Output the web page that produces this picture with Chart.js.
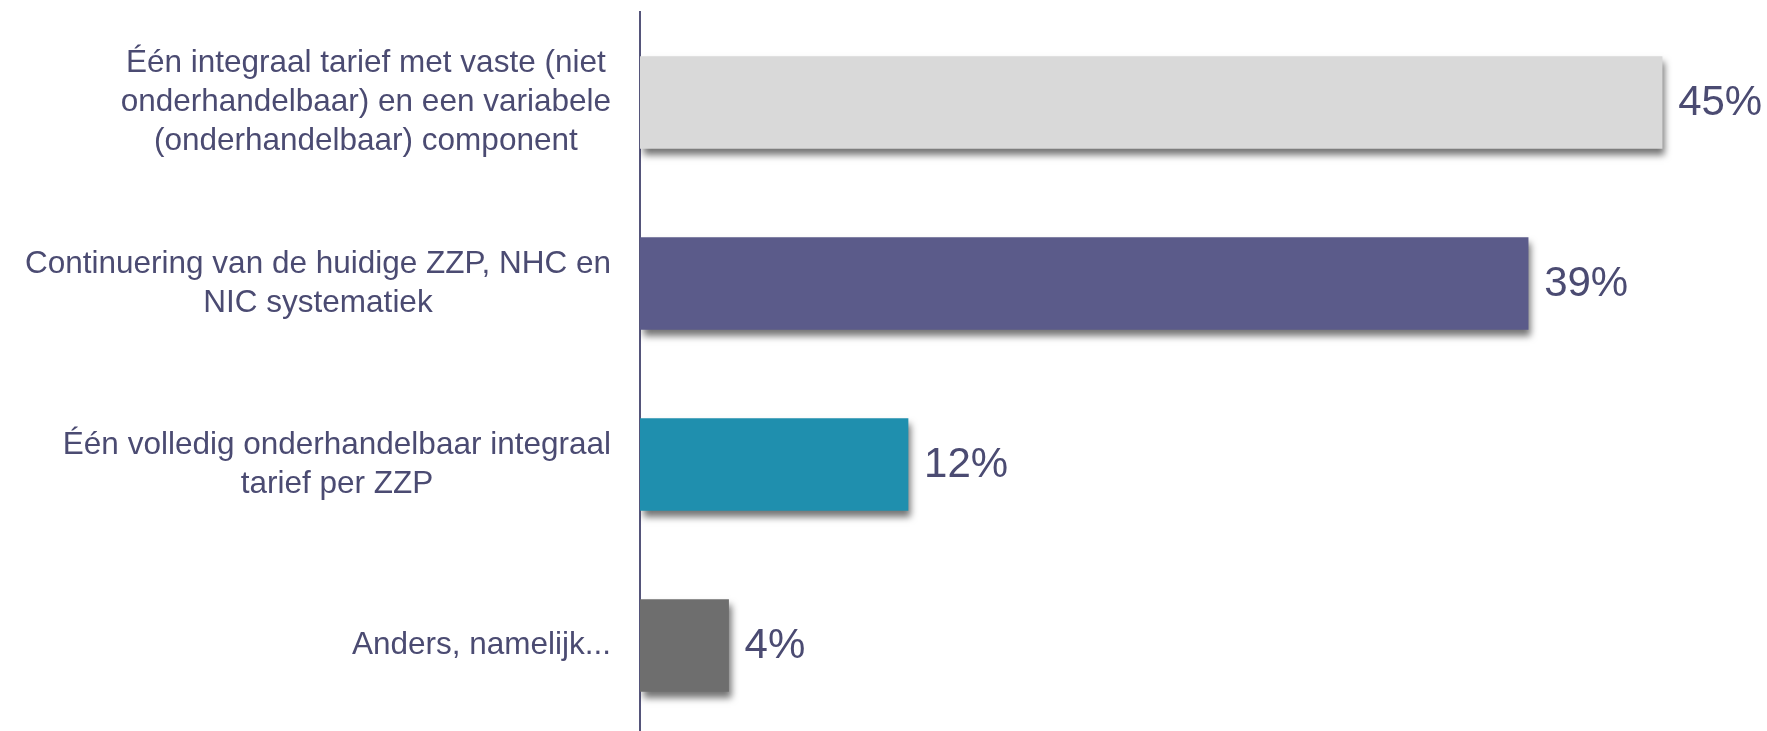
<!DOCTYPE html>
<html>
<head>
<meta charset="utf-8">
<script src="https://cdn.jsdelivr.net/npm/chart.js@4/dist/chart.umd.min.js"></script>
<style>
  html, body { margin: 0; padding: 0; background: #fff; overflow: hidden; }
  #wrap { width: 1767px; height: 736px; }
</style>
</head>
<body>
<div id="wrap"><canvas id="chart"></canvas></div>
<script>
// answer options (one array per label, one entry per line)
var labels = [
  ['Één integraal tarief met vaste (niet', 'onderhandelbaar) en een variabele', '(onderhandelbaar) component'],
  ['Continuering van de huidige ZZP, NHC en', 'NIC systematiek'],
  ['Één volledig onderhandelbaar integraal', 'tarief per ZZP'],
  ['Anders, namelijk...']
];
// bar lengths, shown rounded as whole percentages
var values = [45, 39.1, 11.8, 3.9];
var barColors = ['#d9d9d9', '#5b5b8a', '#1f8fae', '#6e6e6e'];

var textColor = '#4b4b72';

// shadow under the bars
var shadowPlugin = {
  id: 'shadow',
  beforeDatasetsDraw: function(chart) {
    var ctx = chart.ctx;
    ctx.save();
    ctx.shadowColor = 'rgba(0,0,0,0.55)';
    ctx.shadowBlur = 7;
    ctx.shadowOffsetX = 3;
    ctx.shadowOffsetY = 6;
  },
  afterDatasetsDraw: function(chart) {
    chart.ctx.restore();
  }
};

// category labels (lines centred in a right aligned block) + value labels
var labelPlugin = {
  id: 'labels',
  afterDraw: function(chart) {
    var ctx = chart.ctx;
    var yScale = chart.scales.y;
    var meta = chart.getDatasetMeta(0);
    ctx.save();
    ctx.fillStyle = textColor;
    ctx.textBaseline = 'middle';

    ctx.font = '31.5px "Liberation Sans", Arial, sans-serif';
    ctx.textAlign = 'center';
    var lineH = 39;
    labels.forEach(function(lines, i) {
      var widest = 0;
      lines.forEach(function(l) { widest = Math.max(widest, ctx.measureText(l).width); });
      var cx = 611 - widest / 2;
      var cy = yScale.getPixelForValue(i);
      var y0 = cy - (lines.length - 1) * lineH / 2;
      lines.forEach(function(l, j) { ctx.fillText(l, cx, y0 + j * lineH); });
    });

    ctx.font = '42px "Liberation Sans", Arial, sans-serif';
    ctx.textAlign = 'left';
    meta.data.forEach(function(bar, i) {
      ctx.fillText(Math.round(values[i]) + '%', bar.x + 16, bar.y + 1);
    });
    ctx.restore();
  }
};

new Chart(document.getElementById('chart'), {
  type: 'bar',
  data: {
    labels: labels,
    datasets: [{
      data: values,
      backgroundColor: barColors,
      borderWidth: 0,
      barThickness: 92
    }]
  },
  options: {
    indexAxis: 'y',
    responsive: true,
    maintainAspectRatio: false,
    animation: false,
    layout: { padding: { top: 12, right: 14, bottom: 0, left: 0 } },
    plugins: {
      legend: { display: false },
      tooltip: { enabled: false }
    },
    scales: {
      x: {
        display: false,
        min: 0,
        max: 49
      },
      y: {
        afterFit: function(scale) { scale.width = 640; },
        grid: { display: false },
        border: { display: true, color: '#55557a', width: 2 },
        ticks: { display: false }
      }
    }
  },
  plugins: [shadowPlugin, labelPlugin]
});
</script>
</body>
</html>
